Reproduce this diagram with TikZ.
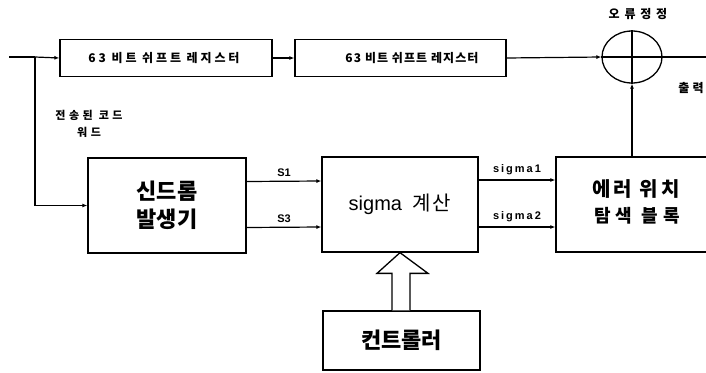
\documentclass[tikz,border=0pt]{standalone}
\usepackage{fontspec}
\setmainfont{Liberation Sans}
\newfontfamily\kr{Noto Sans CJK KR}
\usetikzlibrary{arrows.meta,shapes.geometric,calc}
\tikzset{
  blk/.style={draw, line width=1.3pt, inner sep=0pt},
  conn/.style={line width=1.2pt, -{Latex[length=5pt,width=4pt]}},
  wire/.style={line width=1.2pt},
  small/.style={font=\kr\bfseries\fontsize{12}{14}\selectfont},
  lbl/.style={font=\bfseries\fontsize{11}{12}\selectfont},
  slbl/.style={font=\bfseries\fontsize{11}{12}\selectfont\addfontfeature{LetterSpace=18}},
}
\begin{document}
\begin{tikzpicture}[x=1pt,y=-1pt]
\useasboundingbox (0,0) rectangle (706,372);
% boxes
\node[blk, minimum width=212pt, minimum height=37pt] (reg1) at (166,58) {};
\node[small] at (164,58) {\addfontfeature{LetterSpace=24}63 비트 쉬프트 레지스터};
\node[blk, minimum width=211pt, minimum height=37pt] (reg2) at (400.5,58) {};
\node[small] at (412,58) {\addfontfeature{LetterSpace=9}63 비트 쉬프트 레지스터};
\node[draw, line width=1.3pt, ellipse, minimum width=60pt, minimum height=52pt, inner sep=0pt] (sum) at (632,57) {};
\draw[wire] (sum.north) -- (sum.south);
\draw[wire] (sum.west) -- (sum.east);
\node[font=\kr\bfseries\fontsize{12}{14}\selectfont] at (638,14) {\addfontfeature{LetterSpace=40}오류정정};
\node[font=\kr\bfseries\fontsize{12}{14}\selectfont] at (691,88) {\addfontfeature{LetterSpace=25}출력};

\node[blk, minimum width=158pt, minimum height=95pt, align=center,
      font=\kr\bfseries\fontsize{22}{28}\selectfont] (syn) at (167,205.5)
  {신드롬\\발생기};
\node[blk, minimum width=156pt, minimum height=95pt,
      font=\fontsize{20}{22}\selectfont] (sig) at (400,204.5)
  {sigma\hspace{10pt}{\kr\addfontfeature{LetterSpace=12}계산}};
\node[blk, minimum width=156pt, minimum height=95pt] (err) at (634,204.5) {};
\node[font=\kr\bfseries\fontsize{20}{22}\selectfont] at (636,189) {\addfontfeature{LetterSpace=15}에러 위치};
\node[font=\kr\bfseries\fontsize{18}{20}\selectfont] at (637,216) {\addfontfeature{LetterSpace=28}탐색 블록};
\node[blk, minimum width=157pt, minimum height=59pt,
      font=\kr\bfseries\fontsize{22}{24}\selectfont] (ctrl) at (401.5,340.5)
  {컨트롤러};

\node[font=\kr\bfseries\fontsize{11}{17}\selectfont, align=center] (cw) at (89,124)
  {\addfontfeature{LetterSpace=32}전송된 코드\\\addfontfeature{LetterSpace=32}워드};

% input wiring
\coordinate (in) at (9,57);
\coordinate (br) at (35,57);
\draw[wire] (in) -- (br);
\draw[conn] (br) -- (reg1.west);
\draw[conn] (br) |- (syn.west);
\draw[conn] (reg1.east) -- (reg2.west);
\draw[conn] (reg2.east) -- (sum.west);
\coordinate (out) at (706,57);
\draw[wire] (sum.east) -- (out);
\draw[conn] (err.north -| sum.south) -- (sum.south);

% syndrome -> sigma
\draw[conn] ($(syn.east)+(0,-24)$) -- node[lbl, above=1pt] {S1} ($(sig.west)+(0,-23.5)$);
\draw[conn] ($(syn.east)+(0,22)$) -- node[lbl, above=1pt] {S3} ($(sig.west)+(0,22.5)$);
% sigma -> error
\draw[conn] ($(sig.east)+(0,-24.5)$) -- node[slbl, above=1pt] {sigma1} ($(err.west)+(0,-24.5)$);
\draw[conn] ($(sig.east)+(0,22.5)$) -- node[slbl, above=1pt] {sigma2} ($(err.west)+(0,22.5)$);

% hollow block arrow controller -> sigma
\draw[line width=1.3pt, fill=white]
  ($(ctrl.north)+(-9.5,0)$) -- ($(ctrl.north)+(-9.5,-37)$) -- ($(ctrl.north)+(-24.5,-37)$)
  -- (sig.south) -- ($(ctrl.north)+(26.5,-37)$) -- ($(ctrl.north)+(8.5,-37)$) -- ($(ctrl.north)+(8.5,0)$);
\end{tikzpicture}
\end{document}
